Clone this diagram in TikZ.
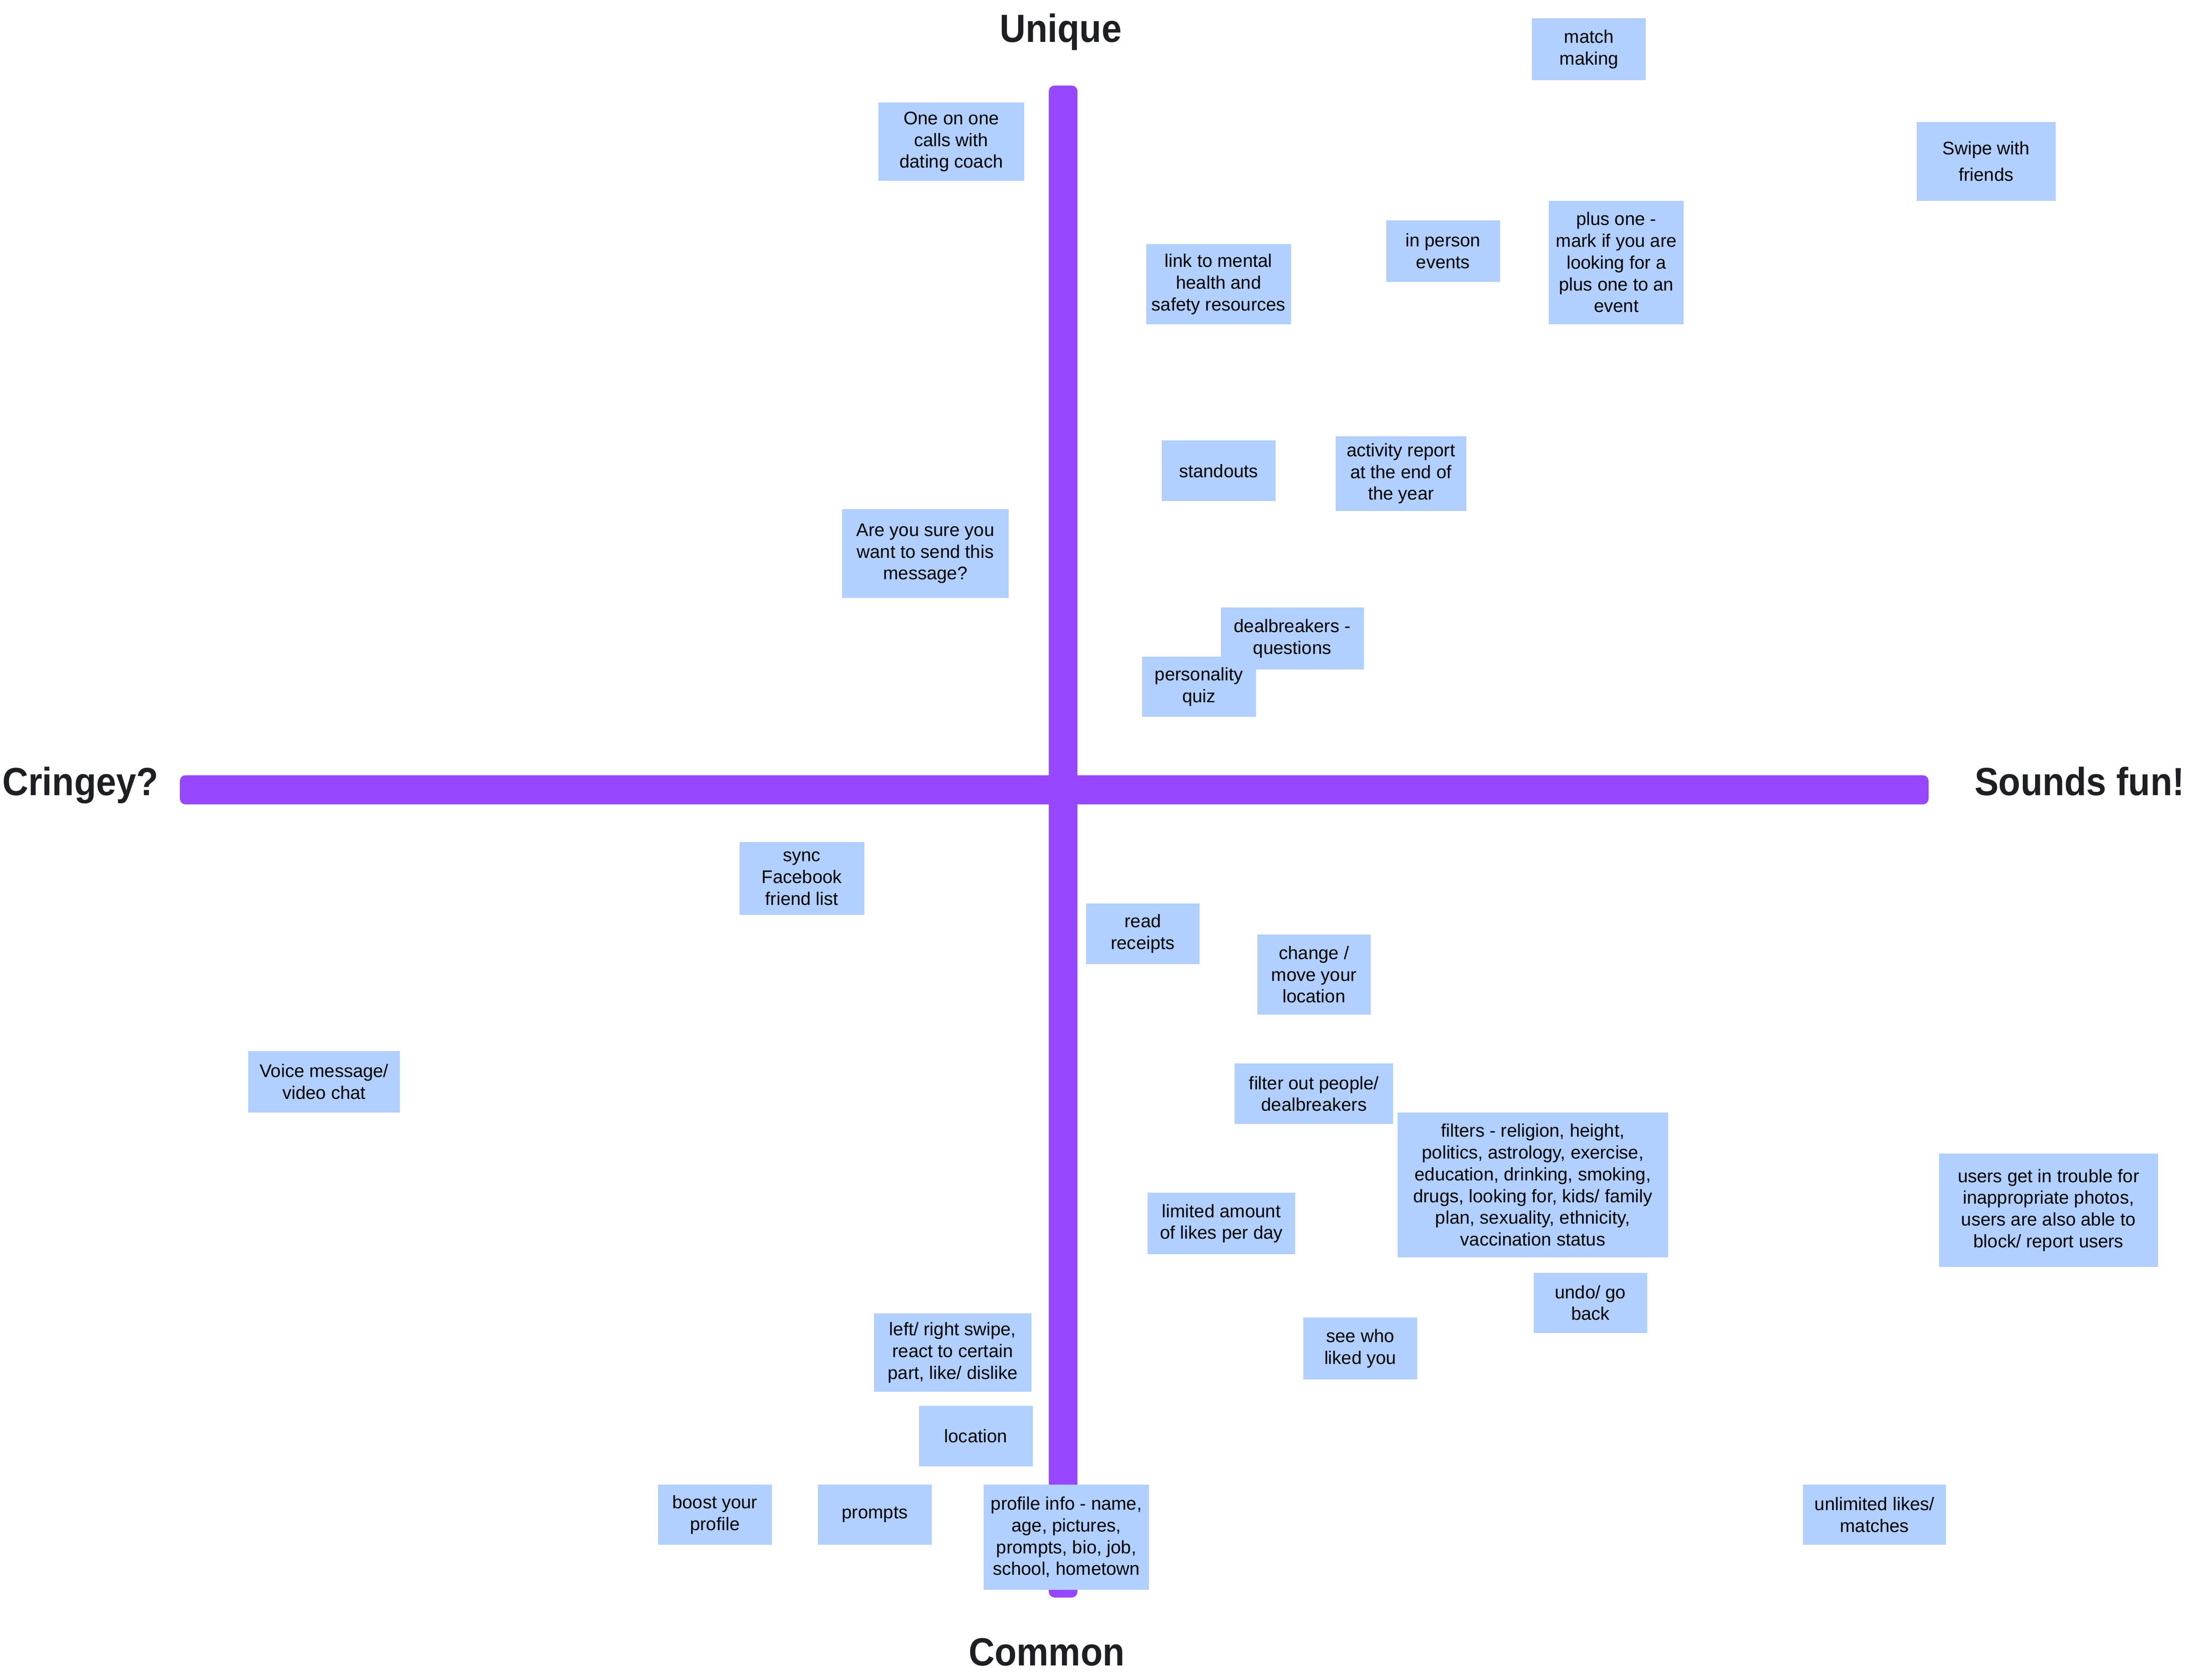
\documentclass[tikz,border=0pt]{standalone}
\usepackage{fontspec}
\setmainfont{Liberation Sans}
\usepackage{graphicx}
\definecolor{axispurple}{HTML}{9747FF}
\definecolor{stickyblue}{HTML}{B1CFFF}
\definecolor{titlegray}{HTML}{1E1F23}
\tikzset{
  sticky/.style 2 args={fill=stickyblue, draw=none, inner sep=0pt, minimum width=#1pt, minimum height=#2pt, align=center, font=\fontsize{13}{15.5}\selectfont, text=black},
  axistitle/.style={font=\fontsize{28}{32}\selectfont\bfseries, text=titlegray, inner sep=0pt},
  axisbar/.style={fill=axispurple, rounded corners=4pt},
}
\begin{document}
\begin{tikzpicture}[x=1pt,y=-1pt]
\fill[white] (0,0) rectangle (1568,1197.3);
\useasboundingbox (0,0) rectangle (1568,1197.3);

% axes
\path[axisbar] (128.2,552.5) rectangle (1374.5,573.3);
\path[axisbar] (747.5,61) rectangle (767.9,1138.5);

% axis titles
\node[axistitle, anchor=base] (unique) at (756,30) {\scalebox{0.915}[1]{Unique}};
\node[axistitle, anchor=base] (common) at (746,1187) {\scalebox{0.915}[1]{Common}};
\node[axistitle, anchor=base west] (cringey) at (1.5,567) {\scalebox{0.915}[1]{Cringey?}};
\node[axistitle, anchor=base east] (fun) at (1557,567) {\scalebox{0.915}[1]{Sounds fun!}};

% sticky notes
\node[sticky={81}{44}] (match) at (1132.5,35) {match\\making};
\node[sticky={104}{56}] (coach) at (678,101) {One on one\\calls with\\dating coach};
\node[sticky={99}{56}, font=\fontsize{13}{19}\selectfont] (swipe) at (1415.5,115) {Swipe with\\friends};
\node[sticky={81}{44}] (inperson) at (1028.5,179) {in person\\events};
\node[sticky={96}{88}] (plusone) at (1152,187) {plus one -\\mark if you are\\looking for a\\plus one to an\\event};
\node[sticky={103}{57}] (mental) at (868.5,202.5) {link to mental\\health and\\safety resources};
\node[sticky={81}{43}] (standouts) at (868.5,335.5) {standouts};
\node[sticky={93}{53}] (activity) at (998.5,337.5) {activity report\\at the end of\\the year};
\node[sticky={119}{63}] (sure) at (659.5,394.5) {Are you sure you\\want to send this\\message?};
\node[sticky={102}{44}] (dealq) at (921,455) {dealbreakers -\\questions};
\node[sticky={81}{43}] (quiz) at (854.5,489.5) {personality\\quiz};
\node[sticky={89}{52}] (sync) at (571.5,626) {sync\\Facebook\\friend list};
\node[sticky={81}{43}] (read) at (814.5,665.5) {read\\receipts};
\node[sticky={81}{57}] (change) at (936.5,694.5) {change /\\move your\\location};
\node[sticky={108}{44}] (voice) at (231,771) {Voice message/\\video chat};
\node[sticky={113}{43}] (filterout) at (936.5,779.5) {filter out people/\\dealbreakers};
\node[sticky={193}{103}] (filters) at (1092.5,844.5) {filters - religion, height,\\politics, astrology, exercise,\\education, drinking, smoking,\\drugs, looking for, kids/ family\\plan, sexuality, ethnicity,\\vaccination status};
\node[sticky={156}{81}] (report) at (1460,862.5) {users get in trouble for\\inappropriate photos,\\users are also able to\\block/ report users};
\node[sticky={105}{44}] (limited) at (870.5,872) {limited amount\\of likes per day};
\node[sticky={81}{43}] (undo) at (1133.5,928.5) {undo/ go\\back};
\node[sticky={81}{44}] (seewho) at (969.5,961) {see who\\liked you};
\node[sticky={112}{56}] (leftright) at (679,964) {left/ right swipe,\\react to certain\\part, like/ dislike};
\node[sticky={81}{43}] (location) at (695.5,1023.5) {location};
\node[sticky={81}{43}] (boost) at (509.5,1079.5) {boost your\\profile};
\node[sticky={81}{43}] (prompts) at (623.5,1079.5) {prompts};
\node[sticky={118}{75}] (profile) at (760,1095.5) {profile info - name,\\age, pictures,\\prompts, bio, job,\\school, hometown};
\node[sticky={102}{43}] (unlimited) at (1336,1079.5) {unlimited likes/\\matches};
\end{tikzpicture}
\end{document}
